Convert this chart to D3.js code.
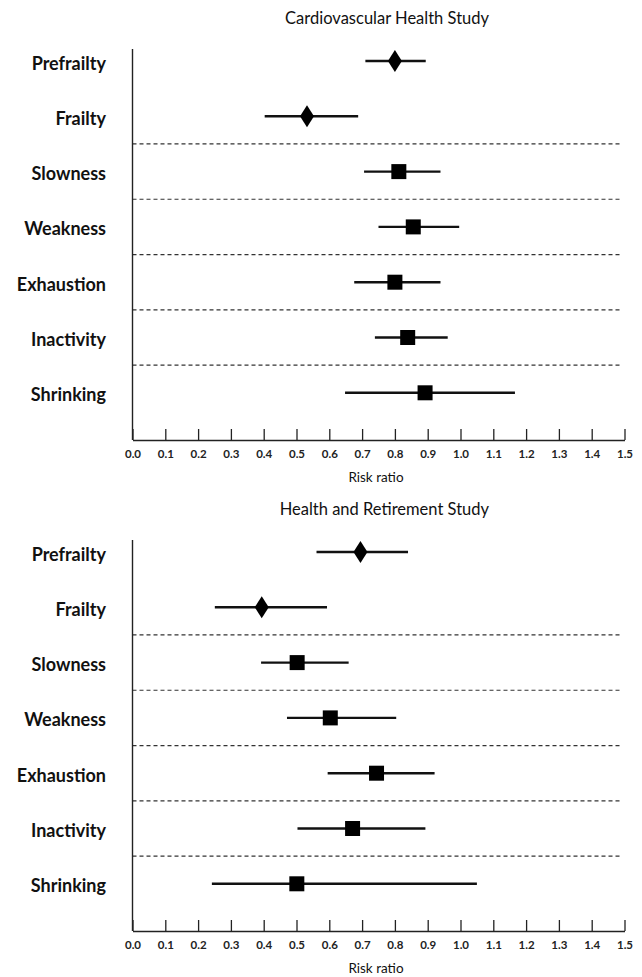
<!DOCTYPE html>
<html>
<head>
<meta charset="utf-8">
<script src="https://cdn.jsdelivr.net/npm/d3@7"></script>
<style>
  html, body { margin: 0; padding: 0; background: #fff; }
  svg { display: block; }
</style>
</head>
<body>
<svg id="chart" width="642" height="977"></svg>
<script>
// ---- data ----
const categories = ["Prefrailty", "Frailty", "Slowness", "Weakness", "Exhaustion", "Inactivity", "Shrinking"];
const markerShapes = ["diamond", "diamond", "square", "square", "square", "square", "square"];
const panelTitles = ["Cardiovascular Health Study", "Health and Retirement Study"];

const chsEstimate = [0.800, 0.532, 0.812, 0.856, 0.800, 0.839, 0.892];
const chsLower    = [0.710, 0.403, 0.706, 0.750, 0.676, 0.739, 0.648];
const chsUpper    = [0.894, 0.688, 0.939, 0.996, 0.939, 0.961, 1.166];

const hrsEstimate = [0.695, 0.394, 0.502, 0.603, 0.744, 0.671, 0.501];
const hrsLower    = [0.561, 0.251, 0.392, 0.471, 0.595, 0.503, 0.242];
const hrsUpper    = [0.840, 0.593, 0.659, 0.804, 0.921, 0.893, 1.050];

const tickValues = [0.0, 0.1, 0.2, 0.3, 0.4, 0.5, 0.6, 0.7, 0.8, 0.9, 1.0, 1.1, 1.2, 1.3, 1.4, 1.5];
const xAxisLabel = "Risk ratio";

const panels = [
  { title: panelTitles[0], est: chsEstimate, lo: chsLower, hi: chsUpper, offset: 0 },
  { title: panelTitles[1], est: hrsEstimate, lo: hrsLower, hi: hrsUpper, offset: 491 }
];

// ---- layout ----
const svg = d3.select("#chart");
const FONT = "Lato, 'Open Sans', sans-serif";
const x = d3.scaleLinear().domain([0, 1.5]).range([132.5, 624.5]);
const y = d3.scalePoint().domain(categories).range([61, 392.8]);
const axisY = 440;
const axisTop = 49;

panels.forEach(p => {
  const g = svg.append("g").attr("transform", `translate(0,${p.offset})`);

  // title
  g.append("text")
    .attr("x", 489).attr("y", 24)
    .attr("text-anchor", "end")
    .style("font-family", FONT).style("font-size", "16.5px").style("fill", "#111")
    .text(p.title);

  // dashed separators between rows (after the 2nd row)
  const step = y.step();
  categories.slice(1, -1).forEach(c => {
    g.append("line")
      .attr("x1", x(0)).attr("x2", 622)
      .attr("y1", y(c) + step / 2).attr("y2", y(c) + step / 2)
      .attr("stroke", "#333").attr("stroke-width", 1.2)
      .attr("stroke-dasharray", "4,3");
  });

  // vertical axis line
  g.append("line")
    .attr("x1", x(0)).attr("x2", x(0))
    .attr("y1", axisTop).attr("y2", axisY)
    .attr("stroke", "#222").attr("stroke-width", 1.4);

  // category labels
  g.selectAll("text.cat").data(categories).join("text")
    .attr("class", "cat")
    .attr("x", 106).attr("y", d => y(d))
    .attr("dy", 8.5)
    .attr("text-anchor", "end")
    .style("font-family", FONT).style("font-weight", "bold").style("font-size", "18px").style("fill", "#111")
    .text(d => d);

  // x axis
  const xAxis = d3.axisBottom(x)
    .tickValues(tickValues)
    .tickFormat(d3.format(".1f"))
    .tickSizeInner(-11).tickSizeOuter(0).tickPadding(10);
  const ax = g.append("g").attr("transform", `translate(0,${axisY})`).call(xAxis);
  ax.select(".domain").attr("stroke", "#222").attr("stroke-width", 1.4);
  ax.selectAll(".tick line").attr("stroke", "#222").attr("stroke-width", 1.3);
  ax.selectAll(".tick text")
    .style("font-family", FONT).style("font-weight", "bold").style("font-size", "11.5px").style("fill", "#222");

  g.append("text")
    .attr("x", 376).attr("y", axisY + 42)
    .attr("text-anchor", "middle")
    .style("font-family", FONT).style("font-size", "13.5px").style("fill", "#111")
    .text(xAxisLabel);

  // CI lines
  categories.forEach((c, i) => {
    g.append("line")
      .attr("x1", x(p.lo[i])).attr("x2", x(p.hi[i]))
      .attr("y1", y(c)).attr("y2", y(c))
      .attr("stroke", "#111").attr("stroke-width", 2.4);
  });

  // markers
  categories.forEach((c, i) => {
    const cx = x(p.est[i]), cy = y(c);
    if (markerShapes[i] === "diamond") {
      const w = 7, h = 11;
      g.append("path")
        .attr("d", `M${cx},${cy - h}L${cx + w},${cy}L${cx},${cy + h}L${cx - w},${cy}Z`)
        .attr("fill", "#000");
    } else {
      const s = 15;
      g.append("rect")
        .attr("x", cx - s / 2).attr("y", cy - s / 2)
        .attr("width", s).attr("height", s)
        .attr("fill", "#000");
    }
  });
});
</script>
</body>
</html>
